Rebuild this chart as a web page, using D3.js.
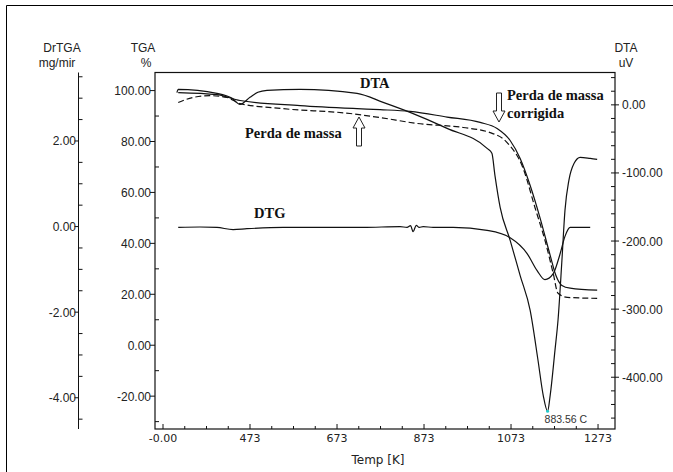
<!DOCTYPE html>
<html><head><meta charset="utf-8">
<script src="https://cdn.jsdelivr.net/npm/d3@7"></script>
<style>body{margin:0;background:#fff}svg{display:block}</style>
</head><body>
<svg id="c" width="673" height="472"></svg>
<script>
// ---- data (temperature in K) ----
const tempTGA = [308,397,450,588,719,772,841,926,1002,1041,1071,1094,1117,1140,1163,1176,1190,1209,1271];
const tgaCorrigida = [99.2,98.4,96.1,94.1,92.9,92.5,91.8,89.6,87.5,85.1,80.4,73.3,62.7,49.8,35.3,27.5,23.5,22.4,21.6];
const tempTGAd = [308,342,381,420,450,549,703,772,857,963,1025,1064,1101,1128,1151,1170,1181,1202,1271];
const tgaPerda = [95.3,97.3,98.0,97.3,94.9,92.9,91.0,89.4,87.1,85.5,83.5,79.6,69.4,54.1,41.2,28.2,20.4,18.8,18.4];
const tempDTA = [305,308,397,432,450,473,491,512,588,719,779,841,926,1018,1029,1036,1048,1071,1094,1117,1135,1147,1157,1163,1174,1181,1190,1197,1206,1218,1232,1255,1271];
const dta = [18,22.8,16.9,9.5,0.7,11,18.4,21.3,22.8,16.9,3.7,-11,-34.5,-63.9,-71.2,-103.5,-150.5,-199,-250.7,-301.9,-375,-426.6,-450,-426.6,-360.5,-316.4,-228.3,-154.9,-110.9,-85.9,-77.1,-78.6,-80];
const tempDTG = [308,358,397,434,466,549,733,818,834,842,848,855,862,871,894,940,1018,1071,1110,1133,1151,1170,1186,1197,1209,1255];
const dtg = [-0.02,-0.01,-0.02,-0.07,-0.05,-0.02,-0.02,0,-0.02,0.02,-0.12,0.03,-0.02,0,-0.02,-0.02,-0.09,-0.26,-0.63,-1.03,-1.24,-1.10,-0.63,-0.23,-0.02,-0.02];
const xTicks = [273,473,673,873,1073,1273];
const xTickLabels = ["-0.00","473","673","873","1073","1273"];
const tgaTicks = [100,80,60,40,20,0,-20];
const dtaTicks = [0,-100,-200,-300,-400];
const dtgTicks = [2,0,-2,-4];
const peakLabel = "883.56 C";
const peakTemp = 1157, peakDTA = -450;

// ---- layout ----
const svg = d3.select("#c");
const L = 155, R = 615, T = 72.5, B = 429;
const x = d3.scaleLinear().domain([254.6, 1312]).range([L, R]);
const yTGA = d3.scaleLinear().domain([-32.9, 107.1]).range([B, T]);
const yDTA = d3.scaleLinear().domain([-476, 47.5]).range([B, T]);
const yDTG = d3.scaleLinear().domain([-4.73, 3.6]).range([B, T]);
const ink = "#111";
const fmt = d => d3.format(".2f")(d).replace("\u2212", "-");

// outer border (top + left)
svg.append("line").attr("x1",6.5).attr("x2",673).attr("y1",5.5).attr("y2",5.5).attr("stroke","#000");
svg.append("line").attr("x1",6.5).attr("x2",6.5).attr("y1",5.5).attr("y2",472).attr("stroke","#000");

// frame
svg.append("rect").attr("x",L).attr("y",T).attr("width",R-L).attr("height",B-T)
  .attr("fill","none").attr("stroke",ink).attr("stroke-width",1.2);

const tf = "Liberation Sans, Arial, sans-serif";

// X axis ticks (inside) and labels
const xMinor = d3.range(273, 1312, 50);
svg.append("g").selectAll("line").data(xMinor).join("line")
  .attr("x1",d=>x(d)).attr("x2",d=>x(d)).attr("y1",B).attr("y2",d=>xTicks.includes(d)?B-5:B-3)
  .attr("stroke",ink);
svg.append("g").selectAll("text").data(xTicks).join("text")
  .attr("x",d=>x(d)).attr("y",442).attr("text-anchor","middle")
  .attr("font-family","DejaVu Sans, sans-serif").attr("font-size",11).attr("fill","#222")
  .text((d,i)=>xTickLabels[i]);
svg.append("text").attr("x",378).attr("y",464).attr("text-anchor","middle")
  .attr("font-family","DejaVu Sans, sans-serif").attr("font-size",12).attr("fill","#222").text("Temp [K]");

// TGA axis (left of frame)
const tgaMinor = d3.range(-30, 108, 10).filter(v=>!tgaTicks.includes(v));
svg.append("g").selectAll("line").data(tgaMinor).join("line")
  .attr("x1",L).attr("x2",L+4).attr("y1",d=>yTGA(d)).attr("y2",d=>yTGA(d)).attr("stroke",ink);
svg.append("g").selectAll("line").data(tgaTicks).join("line")
  .attr("x1",L-5).attr("x2",L).attr("y1",d=>yTGA(d)).attr("y2",d=>yTGA(d)).attr("stroke",ink);
svg.append("g").selectAll("text").data(tgaTicks).join("text")
  .attr("x",151).attr("y",d=>yTGA(d)+4.5).attr("text-anchor","end")
  .attr("font-family",tf).attr("font-size",12).attr("fill","#222").text(fmt);

// DrTGA axis
const AX = 78.5;
svg.append("line").attr("x1",AX).attr("x2",AX).attr("y1",T).attr("y2",B).attr("stroke",ink);
const dtgMinor = d3.range(-4.5, 3.6, 0.5).filter(v=>!dtgTicks.includes(v));
svg.append("g").selectAll("line").data(dtgMinor).join("line")
  .attr("x1",AX).attr("x2",AX+4).attr("y1",d=>yDTG(d)).attr("y2",d=>yDTG(d)).attr("stroke",ink);
svg.append("g").selectAll("line").data(dtgTicks).join("line")
  .attr("x1",AX-4).attr("x2",AX).attr("y1",d=>yDTG(d)).attr("y2",d=>yDTG(d)).attr("stroke",ink);
svg.append("g").selectAll("text").data(dtgTicks).join("text")
  .attr("x",76).attr("y",d=>yDTG(d)+4.5).attr("text-anchor","end")
  .attr("font-family",tf).attr("font-size",12).attr("fill","#222").text(fmt);

// DTA axis (right edge)
const dtaMinor = d3.range(-460, 47, 20).filter(v=>!dtaTicks.includes(v));
svg.append("g").selectAll("line").data(dtaMinor).join("line")
  .attr("x1",R-4).attr("x2",R).attr("y1",d=>yDTA(d)).attr("y2",d=>yDTA(d)).attr("stroke",ink);
svg.append("g").selectAll("line").data(dtaTicks).join("line")
  .attr("x1",R-4).attr("x2",R+4).attr("y1",d=>yDTA(d)).attr("y2",d=>yDTA(d)).attr("stroke",ink);
svg.append("g").selectAll("text").data(dtaTicks).join("text")
  .attr("x",622).attr("y",d=>yDTA(d)+4.5).attr("text-anchor","start")
  .attr("font-family",tf).attr("font-size",12).attr("fill","#222").text(fmt);

// axis headers
const hdr = [["DrTGA",62,51.5],["mg/mir",57,67],["TGA",143,51.5],["%",146,67],["DTA",626,51.5],["uV",626,67]];
svg.append("g").selectAll("text").data(hdr).join("text")
  .attr("x",d=>d[1]).attr("y",d=>d[2]).attr("text-anchor","middle")
  .attr("font-family",tf).attr("font-size",12).attr("fill","#222").text(d=>d[0]);

// curves
const mk = (xs, ys, yScale) => d3.line().curve(d3.curveMonotoneX)
  .x((d,i)=>x(xs[i])).y((d,i)=>yScale(ys[i]))(ys);
svg.append("path").attr("d",mk(tempTGA,tgaCorrigida,yTGA)).attr("fill","none").attr("stroke",ink).attr("stroke-width",1.2);
svg.append("path").attr("d",mk(tempTGAd,tgaPerda,yTGA)).attr("fill","none").attr("stroke",ink).attr("stroke-width",1.2).attr("stroke-dasharray","6,3");
svg.append("path").attr("d",mk(tempDTA,dta,yDTA)).attr("fill","none").attr("stroke",ink).attr("stroke-width",1.2);
svg.append("path").attr("d",mk(tempDTG,dtg,yDTG)).attr("fill","none").attr("stroke",ink).attr("stroke-width",1.2);

// peak marker and label
svg.append("circle").attr("cx",x(peakTemp)).attr("cy",yDTA(peakDTA)).attr("r",1.5).attr("fill","#2cc");
svg.append("text").attr("x",x(peakTemp)-3).attr("y",423).attr("font-family",tf).attr("font-size",10.5)
  .attr("fill","#333").text(peakLabel);

// annotations
const af = "Liberation Serif, Times New Roman, serif";
const ann = [["DTA",360,88],["Perda de massa",245,138],["Perda de massa",507,100],["corrigida",507,118],["DTG",254,218]];
svg.append("g").selectAll("text").data(ann).join("text")
  .attr("x",d=>d[1]).attr("y",d=>d[2]).attr("font-family",af).attr("font-weight","bold")
  .attr("font-size",14.5).attr("fill","#111").text(d=>d[0]);

// outline arrows
function arrow(cx, tip, dir){ // dir -1: up, +1: down
  const hw=6, sw=2.5, hl=11, len=29;
  const base = tip - dir*len, neck = tip - dir*hl;
  const pts = [[cx,tip],[cx+hw,neck],[cx+sw,neck],[cx+sw,base],[cx-sw,base],[cx-sw,neck],[cx-hw,neck]];
  svg.append("path").attr("d","M"+pts.map(p=>p.join(",")).join("L")+"Z")
    .attr("fill","#fff").attr("stroke","#222").attr("stroke-width",1);
}
arrow(359, 117, -1);
arrow(499, 122, 1);
</script>
</body></html>
